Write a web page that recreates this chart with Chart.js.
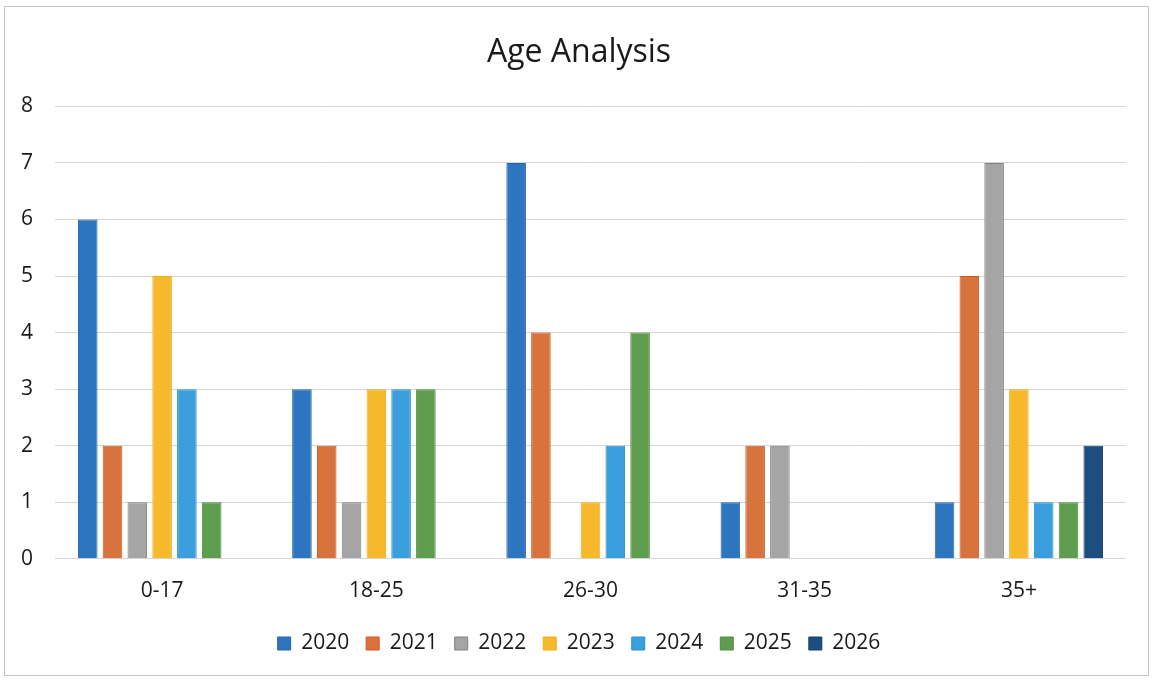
<!DOCTYPE html>
<html>
<head>
<meta charset="utf-8">
<script src="https://cdn.jsdelivr.net/npm/chart.js@4"></script>
<style>
  body { margin: 0; background: #fff; }
  #frame { position: absolute; left: 4px; top: 6px; width: 1143px; height: 668px; border: 1px solid #c4c4c4; }
  #wrap { position: absolute; left: 0; top: 0; width: 1154px; height: 680px; }
</style>
</head>
<body>
<div id="frame"></div>
<div id="wrap"><canvas id="myChart"></canvas></div>
<script>
// chart data
var ageGroups = ['0-17', '18-25', '26-30', '31-35', '35+'];
var years = ['2020', '2021', '2022', '2023', '2024', '2025', '2026'];

var y2020 = [6, 3, 7, 1, 1];
var y2021 = [2, 2, 4, 2, 5];
var y2022 = [1, 1, 0, 2, 7];
var y2023 = [5, 3, 1, 0, 3];
var y2024 = [3, 3, 2, 0, 1];
var y2025 = [1, 3, 4, 0, 1];
var y2026 = [0, 0, 0, 0, 2];

var fills = ['#2e75c0', '#d9733e', '#a5a5a5', '#f6b92b', '#3a9fdc', '#5e9d4e', '#1d4e80'];
var edges = ['#2566a8', '#d4561e', '#7f7f7f', '#eeae1c', '#2a90cf', '#4f8d3d', '#173f69'];

var seriesValues = [y2020, y2021, y2022, y2023, y2024, y2025, y2026];

function buildDatasets() {
    return years.map(function (yr, i) {
        return {
            label: yr,
            data: seriesValues[i],
            backgroundColor: fills[i],
            borderColor: edges[i],
            borderWidth: 1,
            barPercentage: 0.79,
            categoryPercentage: 0.81
        };
    });
}

var font = "'Open Sans', sans-serif";

function renderChart() {
    var ctx = document.getElementById('myChart').getContext('2d');
    new Chart(ctx, {
        type: 'bar',
        data: {
            labels: ageGroups,
            datasets: buildDatasets()
        },
        options: {
            responsive: true,
            maintainAspectRatio: false,
            animation: false,
            layout: { padding: { left: 18, right: 14, top: 0, bottom: 16 } },
            plugins: {
                title: {
                    display: true,
                    text: 'Age Analysis',
                    color: '#1a1a1a',
                    font: { family: font, size: 32, weight: 'normal' },
                    padding: { top: 34, bottom: 34 }
                },
                legend: {
                    position: 'bottom',
                    labels: {
                        color: '#1a1a1a',
                        font: { family: font, size: 21 },
                        boxWidth: 13,
                        boxHeight: 13,
                        padding: 17
                    }
                },
                tooltip: { enabled: false }
            },
            scales: {
                x: {
                    afterFit: function (scale) { scale.height -= 8; },
                    grid: { display: false, drawTicks: false },
                    border: { display: false },
                    ticks: { color: '#1a1a1a', font: { family: font, size: 21 }, padding: 20 }
                },
                y: {
                    min: 0,
                    max: 8,
                    afterFit: function (scale) { scale.width = 37; },
                    grid: { color: '#d6d6d6', drawTicks: false },
                    border: { display: false },
                    ticks: { stepSize: 1, color: '#1a1a1a', font: { family: font, size: 21 }, padding: 22 }
                },
                // empty strip on the right so title and legend sit where the original has them
                spacer: {
                    position: 'right',
                    afterFit: function (scale) { scale.width = 14; },
                    grid: { display: false, drawTicks: false },
                    border: { display: false },
                    ticks: { display: false }
                }
            }
        }
    });
}

renderChart();
</script>
</body>
</html>
